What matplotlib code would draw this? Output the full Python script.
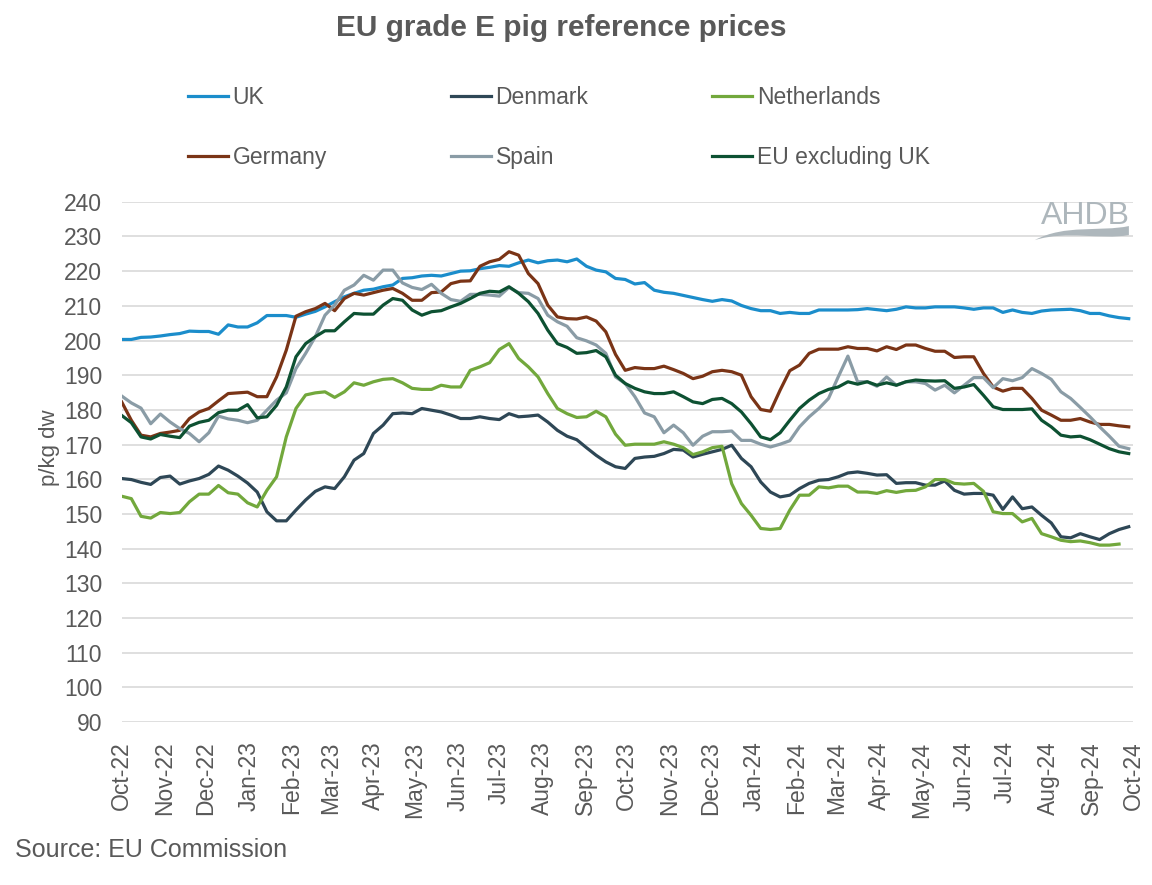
import matplotlib
matplotlib.use("Agg")
import matplotlib.pyplot as plt
import matplotlib.dates as mdates
from matplotlib.path import Path
from matplotlib.patches import PathPatch
import numpy as np
import pandas as pd

plt.rcParams['font.family'] = ['Liberation Sans', 'DejaVu Sans']

# weekly prices, p/kg dw (Oct-22 .. Sep-24)
weeks = pd.date_range("2022-10-03", periods=105, freq="7D")
month_ticks = pd.date_range("2022-10-03", periods=25, freq=pd.DateOffset(months=1))

uk = [
    200.3, 200.3, 200.9, 201.0, 201.3, 201.7, 202.0, 202.7, 202.6, 202.6, 201.8, 204.5, 203.9,
    203.9, 205.1, 207.2, 207.2, 207.2, 206.7, 207.6, 208.4, 209.7, 211.2, 212.6, 213.6, 214.5,
    214.8, 215.5, 216.0, 217.9, 218.1, 218.6, 218.8, 218.6, 219.3, 220.0, 220.1, 220.7, 221.1,
    221.6, 221.4, 222.4, 223.2, 222.4, 223.0, 223.2, 222.7, 223.5, 221.4, 220.3, 219.8, 217.9,
    217.6, 216.3, 216.7, 214.5, 213.9, 213.6, 213.0, 212.4, 211.8, 211.3, 211.8, 211.4, 210.1,
    209.2, 208.6, 208.6, 207.8, 208.1, 207.8, 207.8, 208.8, 208.8, 208.8, 208.8, 208.9, 209.2,
    208.9, 208.6, 209.0, 209.7, 209.4, 209.4, 209.7, 209.7, 209.7, 209.4, 209.0, 209.4, 209.4,
    208.1, 208.8, 208.1, 207.8, 208.5, 208.8, 208.9, 209.0, 208.6, 207.8, 207.8, 207.1, 206.6,
    206.3,
]
denmark = [
    160.2, 159.9, 159.1, 158.5, 160.5, 160.9, 158.6, 159.5, 160.2, 161.4, 163.8, 162.6, 160.9,
    158.9, 156.3, 150.6, 148.0, 148.0, 151.1, 154.0, 156.5, 157.8, 157.3, 160.7, 165.5, 167.4,
    173.2, 175.6, 178.9, 179.1, 178.9, 180.4, 179.9, 179.4, 178.5, 177.5, 177.5, 178.0, 177.5,
    177.2, 178.9, 178.0, 178.2, 178.5, 176.5, 174.1, 172.4, 171.4, 169.1, 166.9, 165.0, 163.6,
    163.1, 166.0, 166.4, 166.6, 167.4, 168.6, 168.4, 166.4, 167.2, 167.9, 168.6, 169.8, 166.0,
    163.6, 159.2, 156.3, 154.9, 155.4, 157.3, 158.8, 159.7, 159.9, 160.7, 161.8, 162.1, 161.7,
    161.2, 161.3, 158.8, 159.0, 159.0, 158.3, 158.3, 159.5, 156.8, 155.7, 155.9, 155.9, 155.4,
    151.3, 154.9, 151.5, 152.0, 149.6, 147.4, 143.4, 143.1, 144.3, 143.4, 142.6, 144.3, 145.5,
    146.3,
]
netherlands = [
    155.1, 154.4, 149.3, 148.8, 150.4, 150.1, 150.4, 153.5, 155.7, 155.7, 158.2, 156.1, 155.7,
    153.2, 152.0, 156.8, 160.7, 172.2, 180.4, 184.3, 184.9, 185.2, 183.6, 185.2, 187.8, 187.1,
    188.1, 188.8, 189.0, 187.8, 186.2, 185.9, 185.9, 187.1, 186.6, 186.6, 191.4, 192.4, 193.6,
    197.4, 199.1, 194.8, 192.4, 189.5, 184.7, 180.4, 178.9, 177.8, 178.0, 179.6, 178.0, 173.0,
    169.8, 170.1, 170.1, 170.1, 170.8, 170.1, 169.1, 167.1, 167.9, 169.1, 169.5, 158.7, 153.0,
    149.6, 145.8, 145.5, 145.8, 151.1, 155.4, 155.4, 157.8, 157.5, 158.0, 158.0, 156.3, 156.3,
    155.9, 156.7, 156.2, 156.7, 156.8, 157.8, 159.9, 159.9, 158.8, 158.6, 158.8, 156.5, 150.6,
    150.1, 150.1, 147.7, 148.7, 144.3, 143.4, 142.4, 142.0, 142.2, 141.7, 141.0, 141.0, 141.3,
    np.nan,
]
germany = [
    182.3, 177.0, 172.7, 172.2, 173.2, 173.6, 174.1, 177.5, 179.4, 180.4, 182.6, 184.7, 184.9,
    185.1, 183.8, 183.8, 189.5, 197.2, 207.0, 208.3, 209.2, 210.7, 208.6, 212.1, 213.6, 213.1,
    213.8, 214.5, 215.0, 213.6, 211.6, 211.6, 213.8, 214.0, 216.4, 217.1, 217.2, 221.4, 222.7,
    223.4, 225.6, 224.6, 219.3, 216.4, 210.2, 206.8, 206.3, 206.2, 206.8, 205.6, 202.5, 196.0,
    191.4, 192.2, 191.9, 191.9, 192.6, 191.6, 190.5, 189.0, 189.7, 191.0, 191.4, 191.0, 190.0,
    183.8, 180.1, 179.6, 185.7, 191.3, 192.9, 196.3, 197.5, 197.5, 197.5, 198.2, 197.7, 197.7,
    197.0, 198.2, 197.4, 198.7, 198.7, 197.7, 196.9, 196.9, 195.1, 195.3, 195.3, 190.5, 186.6,
    185.4, 186.2, 186.2, 183.3, 179.9, 178.5, 177.0, 177.0, 177.5, 176.5, 175.8, 175.8, 175.4,
    175.1,
]
spain = [
    184.0, 182.0, 180.5, 176.0, 178.8, 176.5, 174.6, 173.2, 170.8, 173.4, 178.2, 177.4, 177.0,
    176.3, 177.0, 179.9, 182.8, 184.9, 191.9, 196.3, 201.1, 207.3, 210.2, 214.5, 216.0, 218.8,
    217.4, 220.3, 220.3, 216.6, 215.3, 214.7, 216.2, 213.6, 211.8, 211.3, 213.3, 213.3, 213.1,
    212.8, 215.3, 213.8, 213.6, 212.1, 207.3, 205.4, 204.1, 200.8, 199.9, 198.7, 196.3, 189.5,
    187.6, 183.8, 179.1, 178.0, 173.4, 175.6, 173.4, 169.8, 172.4, 173.7, 173.7, 173.9, 171.2,
    171.2, 170.1, 169.3, 170.1, 171.1, 175.1, 178.0, 180.4, 183.3, 189.5, 195.5, 188.1, 188.1,
    186.8, 189.5, 187.1, 188.1, 188.1, 187.6, 185.7, 187.1, 184.9, 187.1, 189.3, 189.3, 186.4,
    189.0, 188.4, 189.3, 191.9, 190.5, 188.8, 185.2, 183.3, 180.7, 178.0, 175.1, 172.4, 169.5,
    168.8,
]
eu_ex_uk = [
    178.4, 176.3, 172.2, 171.6, 172.9, 172.4, 172.0, 175.3, 176.4, 177.0, 179.2, 179.9, 179.9,
    181.5, 177.7, 178.0, 181.3, 186.6, 195.3, 199.1, 201.1, 202.8, 202.8, 205.4, 207.8, 207.6,
    207.6, 210.2, 212.1, 211.6, 208.8, 207.3, 208.3, 208.6, 209.7, 210.7, 212.1, 213.6, 214.2,
    214.0, 215.5, 213.6, 211.2, 207.8, 203.0, 199.1, 198.0, 196.3, 196.5, 197.1, 195.3, 190.0,
    187.6, 186.2, 185.2, 184.7, 184.7, 185.2, 183.8, 182.3, 181.8, 183.0, 183.3, 181.8, 179.4,
    176.0, 172.2, 171.4, 173.4, 177.0, 180.4, 182.8, 184.7, 185.9, 186.6, 188.1, 187.4, 188.1,
    187.1, 187.8, 187.1, 188.1, 188.6, 188.4, 188.3, 188.4, 186.2, 186.6, 187.3, 184.2, 180.9,
    180.1, 180.1, 180.1, 180.3, 177.0, 175.1, 172.7, 172.2, 172.4, 171.4, 170.1, 168.8, 167.9,
    167.4,
]

names = ["UK", "Denmark", "Netherlands", "Germany", "Spain", "EU excluding UK"]
series = [uk, denmark, netherlands, germany, spain, eu_ex_uk]
colors = ["#1B8DCB", "#2E4756", "#72A83C", "#7A3416", "#8A9CA6", "#0D5132"]
text_col = "#595959"

fig = plt.figure(figsize=(11.52, 8.85), dpi=100)
ax = fig.add_axes([0.1056, 0.1842, 0.8778, 0.5878])

lines = []
for name, vals, col in zip(names, series, colors):
    ln, = ax.plot(weeks, vals, color=col, linewidth=2.3, label=name)
    lines.append(ln)

ax.set_ylim(90, 240)
ax.set_yticks(np.arange(90, 241, 10))
ax.set_xlim(weeks[0], month_ticks[-1])
ax.set_xticks(month_ticks)
ax.xaxis.set_major_formatter(mdates.DateFormatter("%b-%y"))
for lab in ax.get_xticklabels():
    lab.set_rotation(90)

ax.yaxis.grid(True, color="#D9D9D9", linewidth=1.2)
ax.set_axisbelow(True)
for sp in ax.spines.values():
    sp.set_visible(False)
ax.tick_params(axis="both", length=0, labelsize=16.5, colors=text_col)
ax.tick_params(axis="y", pad=14)
ax.tick_params(axis="x", pad=14)

ax.set_ylabel("p/kg dw", fontsize=16, color=text_col)
ax.yaxis.set_label_coords(-0.061, 0.528)

fig.text(0.487, 0.968, "EU grade E pig reference prices", ha="center", va="center",
         fontsize=21.5, fontweight="bold", color=text_col)
fig.text(15 / 1152, 1 - 850 / 885, "Source: EU Commission", ha="left", va="center",
         fontsize=18, color=text_col)

# legend: rows UK/Denmark/Netherlands and Germany/Spain/EU
order = [0, 3, 1, 4, 2, 5]
leg = fig.legend([lines[i] for i in order], [names[i] for i in order],
                 loc="upper left", bbox_to_anchor=(188 / 1152, 1 - 86 / 885),
                 ncol=3, frameon=False, fontsize=16.5, handlelength=1.75,
                 handletextpad=0.2, columnspacing=5.4, labelspacing=1.6,
                 borderpad=0, borderaxespad=0)
for t in leg.get_texts():
    t.set_color(text_col)

# AHDB logo
logo_col = "#AEB7BC"
ax.text(0.997, 0.957, "AHDB", transform=ax.transAxes, ha="right", va="baseline",
        fontsize=23, color=logo_col)


def to_ax(px, py):
    return ((px - 121.7) / 1011.3, (722 - py) / 520.3)


verts = [to_ax(1035, 240), to_ax(1065, 224), to_ax(1100, 232), to_ax(1129, 226),
         to_ax(1129, 235), to_ax(1100, 240), to_ax(1068, 230), to_ax(1035, 240)]
codes = [Path.MOVETO, Path.CURVE4, Path.CURVE4, Path.CURVE4,
         Path.LINETO, Path.CURVE4, Path.CURVE4, Path.CURVE4]
ax.add_patch(PathPatch(Path(verts, codes), transform=ax.transAxes,
                       facecolor=logo_col, edgecolor="none", clip_on=False))

fig.savefig("out.png", dpi=100)
